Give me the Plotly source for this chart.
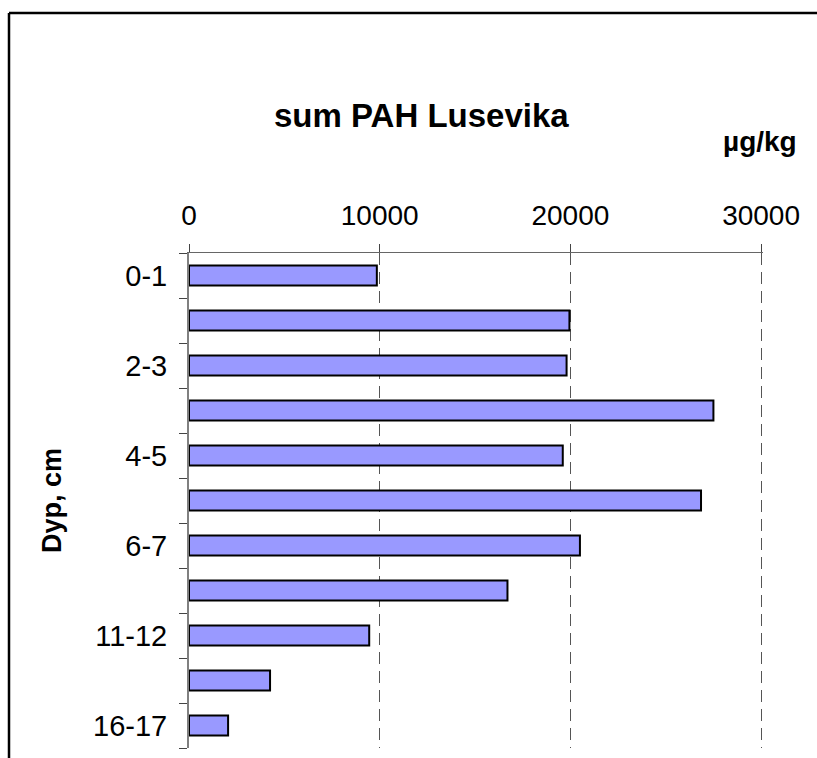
import plotly.graph_objects as go

# depth intervals (top to bottom) and summed PAH, µg/kg
depths = ["0-1", "1-2", "2-3", "3-4", "4-5", "5-6", "6-7", "8-9", "11-12", "13-14", "16-17"]
sum_pah = [9850, 19950, 19800, 27500, 19600, 26850, 20500, 16700, 9450, 4250, 2050]
x_ticks = [0, 10000, 20000, 30000]

BAR_FILL = "#9999FF"
FONT = "Liberation Sans, Arial, sans-serif"

# only every second depth is labelled
tick_text = [d if i % 2 == 0 else "" for i, d in enumerate(depths)]

# the chart frame is wider/taller than the window; only its top-left part shows
FIG_W, FIG_H = 850, 775
# plot area in pixels: x 189..763, y 253..748
PLOT_L, PLOT_T, PLOT_B = 189, 253, 748
PLOT_W = 574
PLOT_H = PLOT_B - PLOT_T


def px_x(px):
    return (px - PLOT_L) / PLOT_W


def px_y(py):
    return (PLOT_B - py) / PLOT_H


fig = go.Figure()
fig.add_trace(go.Bar(
    x=sum_pah,
    y=depths,
    orientation="h",
    width=0.44,
    marker=dict(color=BAR_FILL, line=dict(color="black", width=2)),
    hovertemplate="%{y} cm<br>%{x} µg/kg<extra></extra>",
))

fig.update_layout(
    width=FIG_W,
    height=FIG_H,
    margin=dict(l=PLOT_L, r=FIG_W - PLOT_L - PLOT_W, t=PLOT_T, b=FIG_H - PLOT_B),
    paper_bgcolor="white",
    plot_bgcolor="white",
    font=dict(family=FONT, size=28, color="black"),
    showlegend=False,
    bargap=0,
    hovermode=False,
)

fig.update_xaxes(
    side="top",
    range=[0, 30100],
    tickvals=x_ticks,
    ticktext=[str(v) for v in x_ticks],
    ticks="outside",
    ticklen=8,
    tickcolor="#444",
    showline=True,
    linecolor="#666",
    linewidth=1,
    showgrid=True,
    gridcolor="#555",
    griddash="12px,7px",
    gridwidth=1,
    zeroline=False,
    ticklabelstandoff=8,
    tickfont=dict(size=28),
)

fig.update_yaxes(
    type="category",
    categoryorder="array",
    categoryarray=depths,
    autorange="reversed",
    tickmode="array",
    tickvals=depths,
    ticktext=tick_text,
    tickson="boundaries",
    ticks="outside",
    ticklen=8,
    tickcolor="#444",
    showline=True,
    linecolor="#808080",
    linewidth=2,
    showgrid=False,
    ticklabelstandoff=14,
    tickfont=dict(size=29),
)

# chart title, unit label and rotated y title
fig.add_annotation(
    text="<b>sum PAH Lusevika</b>", xref="paper", yref="paper",
    x=px_x(421), y=px_y(115),
    showarrow=False, font=dict(size=33), xanchor="center", yanchor="middle",
)
fig.add_annotation(
    text="<b>µg/kg</b>", xref="paper", yref="paper",
    x=px_x(760), y=px_y(141),
    showarrow=False, font=dict(size=28), xanchor="center", yanchor="middle",
)
fig.add_annotation(
    text="<b>Dyp, cm</b>", xref="paper", yref="paper",
    x=px_x(52), y=px_y(501), textangle=-90,
    showarrow=False, font=dict(size=27), xanchor="center", yanchor="middle",
)

# chart-area border: only its top and left edges fall inside the window
border = dict(color="black", width=2.5)
fig.add_shape(type="line", xref="paper", yref="paper",
              x0=px_x(9), x1=px_x(FIG_W), y0=px_y(13), y1=px_y(13),
              line=border, layer="below")
fig.add_shape(type="line", xref="paper", yref="paper",
              x0=px_x(9), x1=px_x(9), y0=px_y(13), y1=px_y(FIG_H),
              line=border, layer="below")

fig.write_html(
    "out.html",
    config={"displayModeBar": False, "staticPlot": True},
    post_script="document.body.style.margin='0';document.body.style.overflow='hidden';",
)
